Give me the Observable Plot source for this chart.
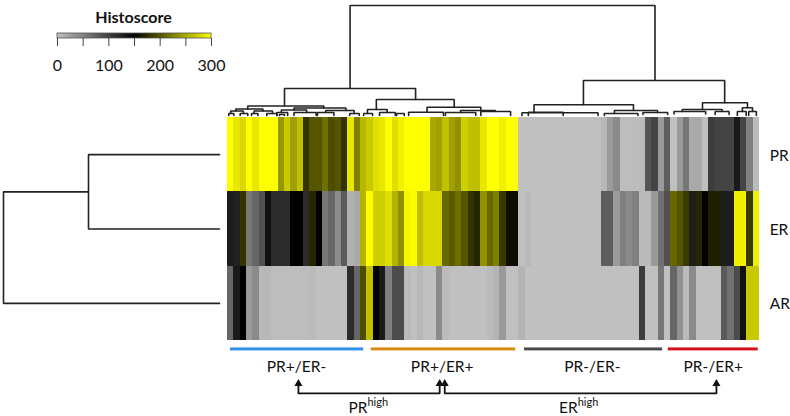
<!DOCTYPE html>
<html>
<head>
<meta charset="utf-8">
<script src="https://cdn.jsdelivr.net/npm/d3@7"></script>
<script src="https://cdn.jsdelivr.net/npm/@observablehq/plot@0.6"></script>
<style>
html,body{margin:0;padding:0;background:#fff}
#chart{position:relative;width:790px;height:416px;overflow:hidden}
#chart svg{position:absolute;left:0;top:0;background:transparent}
</style>
</head>
<body>
<div id="chart"></div>
<script>
const rowNames = ["PR","ER","AR"];
const prScores = [300,286,277,300,286,300,300,300,239,268,244,263,180,200,200,216,195,200,180,286,225,258,268,282,286,300,282,291,300,300,300,300,249,244,263,244,235,272,263,263,286,300,300,291,300,300,0,0,0,0,0,0,0,0,0,0,0,0,0,6,30,42,2,2,2,4,84,97,30,77,0,30,57,17,17,0,103,97,97,97,130,97,50,4];
const erScores = [127,124,180,57,70,87,137,116,116,116,150,150,116,172,150,57,70,42,80,12,17,256,300,272,272,282,256,235,295,298,263,277,277,277,211,203,215,200,180,172,235,211,225,184,158,158,0,6,0,0,0,0,0,0,0,0,0,0,0,77,77,30,50,42,50,4,4,30,62,87,211,200,184,127,172,150,168,168,127,127,291,291,184,291];
const arScores = [70,130,150,30,42,6,6,2,2,2,2,2,2,4,0,0,0,0,0,116,70,195,263,150,130,50,91,91,4,0,6,0,0,42,4,0,0,0,0,0,0,4,9,30,0,0,9,0,0,0,0,0,0,0,0,0,0,0,0,0,0,0,0,0,0,103,0,0,57,0,70,37,4,42,0,0,0,0,80,62,91,137,268,268];
const legendTicks = [0,50,100,150,200,250,300];
const legendTitle = "Histoscore";

// [left column, right column, merge height, left child height, right child height]
const topTree = [
  [19.35,67.5,110,27,35],
  [9.0,29.7,27,9.5,16],
  [3.2,15.2,9.5,6.5,7.5],
  [1.3,5.6,6.5,4.5,4.5],
  [0.5,2.5,4.5,2,2],[4.2,7.1,4.5,2,2],
  [0.2,1.0,2,0,0],[2,3.2,2,0,0],[3.8,4.8,2,0,0],[6.2,7.8,2,0,0],[8.2,9,1,0,0],
  [10.5,18.7,7.5,5.5,5],
  [8.5,12.5,5.5,3,3],[15.5,20,5,3,2],
  [7.8,9.5,3,0,0],[10.5,14,3,0,0],[14.2,16.8,3,0,0],[19.3,20.8,2,0,0],
  [23.5,35.8,16,6,8.3],
  [22.1,25.2,6,2,3],
  [21.5,22.9,2,0,0],[24,26.5,3,0,0],[26.7,27.9,2,0,0],
  [31.5,40,8.3,3.3,5],
  [28.6,34.1,3.3,0,0],
  [36.8,42.3,5,3,4],
  [34.4,39.2,3,0,0],[40,44.7,4,0,0],
  [56.2,78.5,35,10.7,12.7],
  [48.4,64.1,10.7,2.7,5],
  [46.5,58.5,2.7,0,0],[47.5,53,3.3,0,0],
  [61.1,67.9,5,2,3],
  [59.5,64.8,2,0,0],[65.6,69.5,3,1,1],
  [75,82.1,12.7,6,7.7],
  [71.8,78.1,6,4,4],
  [70.5,75.5,4,1.5,1.5],[77,79.2,4,1,1],
  [81.3,82.9,7.7,4,4],
  [80.5,81.9,4,0,0],[82.3,83.5,4,0,0]
];
// [top row position, bottom row position, merge height, upper child height, lower child height]
const sideTree = [
  [0.5,1.5,131,0,0],
  [1,2.5,216,131,0]
];

const groupNames = ["PR+/ER-","PR+/ER+","PR-/ER-","PR-/ER+"];
const groupColors = ["#2f8fe8","#d9890f","#4a4a4a","#d4101c"];
const groupStarts = [0.47,22.7,46.9,69.6];
const groupEnds = [21.5,45.5,68.7,83.8];
const groupCentres = [10.9,33.9,57.6,76.7];

const bracketStarts = [11.2,34.3];
const bracketEnds = [33.5,77.2];
const bracketNames = ["PR","ER"];
const bracketLabelAt = [22.1,55.3];
const bracketSuper = "high";

const FONT = "Lato, 'Open Sans', sans-serif";
const LINE = "#222";
const colorScale = {type:"linear",domain:[0,150,300],range:["#c0c0c0","#000000","#ffff00"],interpolate:"rgb"};
const chart = document.getElementById("chart");

const cells = [prScores,erScores,arScores].flatMap((vals,r)=>vals.map((v,c)=>({c,r,v})));

function treePaths(merges){
  return merges.flatMap((m,i)=>[
    {z:i,a:m[0],h:m[3]},{z:i,a:m[0],h:m[2]},{z:i,a:m[1],h:m[2]},{z:i,a:m[1],h:m[4]}
  ]);
}

// Heatmap, group bars, labels, brackets
const groups = groupNames.map((n,i)=>({n,col:groupColors[i],s:groupStarts[i],e:groupEnds[i],m:groupCentres[i]}));
const brackets = bracketNames.flatMap((n,i)=>[
  {z:i,x:bracketStarts[i],y:3.59},{z:i,x:bracketStarts[i],y:3.71},{z:i,x:bracketEnds[i],y:3.71},{z:i,x:bracketEnds[i],y:3.59}
]);
const tips = bracketNames.flatMap((n,i)=>[{x:bracketStarts[i],y:3.58},{x:bracketEnds[i],y:3.58}]);
const mainPlot = Plot.plot({
  width:790,height:416,margin:0,
  x:{domain:[0,84],range:[227,759],axis:null},
  y:{domain:[0,3],range:[117,340],axis:null},
  color:colorScale,
  style:{fontFamily:FONT,background:"transparent"},
  marks:[
    Plot.rect(cells,{x1:"c",x2:d=>d.c+1,y1:"r",y2:d=>d.r+1,fill:"v",shapeRendering:"crispEdges"}),
    Plot.text(rowNames,{x:()=>85.6,y:(d,i)=>i+0.515,text:d=>d,textAnchor:"start",fontSize:15.5,fill:"#111"}),
    Plot.rect(groups,{x1:"s",x2:"e",y1:()=>3.10,y2:()=>3.14,fill:d=>d.col}),
    Plot.text(groups,{x:"m",y:()=>3.36,text:"n",fontSize:15.5,fill:"#111"}),
    Plot.line(brackets,{x:"x",y:"y",z:"z",stroke:"#111",strokeWidth:1.8}),
    Plot.dot(tips,{x:"x",y:"y",symbol:"triangle",r:3,fill:"#111"}),
    Plot.text(bracketNames,{x:(d,i)=>bracketLabelAt[i],y:()=>3.91,text:d=>d,textAnchor:"end",fontSize:15.5,fill:"#111"}),
    Plot.text(bracketNames,{x:(d,i)=>bracketLabelAt[i],y:()=>3.84,text:()=>bracketSuper,textAnchor:"start",fontSize:11,fill:"#111"})
  ]
});
chart.appendChild(mainPlot);

// Top dendrogram
const topPlot = Plot.plot({
  width:790,height:117,margin:0,
  x:{domain:[0,84],range:[227,759],axis:null},
  y:{domain:[0,110],range:[115,5],axis:null},
  style:{background:"transparent"},
  marks:[Plot.line(treePaths(topTree),{x:"a",y:"h",z:"z",stroke:LINE,strokeWidth:1.6,strokeLinejoin:"miter"})]
});
chart.appendChild(topPlot);

// Left dendrogram
const sidePlot = Plot.plot({
  width:230,height:416,margin:0,
  x:{domain:[216.3,0],range:[2.7,219],axis:null},
  y:{domain:[0,3],range:[117,340],axis:null},
  style:{background:"transparent"},
  marks:[Plot.line(treePaths(sideTree),{x:"h",y:"a",z:"z",stroke:LINE,strokeWidth:1.6,strokeLinejoin:"miter"})]
});
chart.appendChild(sidePlot);

// Colour key
const keyPlot = Plot.plot({
  width:230,height:80,marginTop:0,marginLeft:0,marginRight:0,marginBottom:42,
  x:{domain:[0,300],range:[57,211],axis:null},
  y:{domain:[0,1],range:[38,33],axis:null},
  color:colorScale,
  style:{fontFamily:FONT,background:"transparent"},
  marks:[
    Plot.rect(d3.range(0,300,2),{x1:d=>d,x2:d=>d+2,y1:()=>0,y2:()=>1,fill:d=>d,shapeRendering:"crispEdges"}),
    Plot.rect([0],{x1:()=>0,x2:()=>300,y1:()=>0,y2:()=>1,fill:"none",stroke:"#555",strokeWidth:0.8}),
    Plot.ruleX(legendTicks,{x:d=>d,y1:()=>0,y2:()=>-1.6,stroke:"#444",strokeWidth:1}),
    Plot.text(legendTicks.filter(d=>d%100===0),{x:d=>d,y:()=>-5.4,text:d=>String(d),fontSize:16,fill:"#111"}),
    Plot.text([legendTitle],{x:()=>148,y:()=>4.2,text:d=>d,fontSize:16,fontWeight:"bold",fill:"#111"})
  ]
});
chart.appendChild(keyPlot);
</script>
</body>
</html>
